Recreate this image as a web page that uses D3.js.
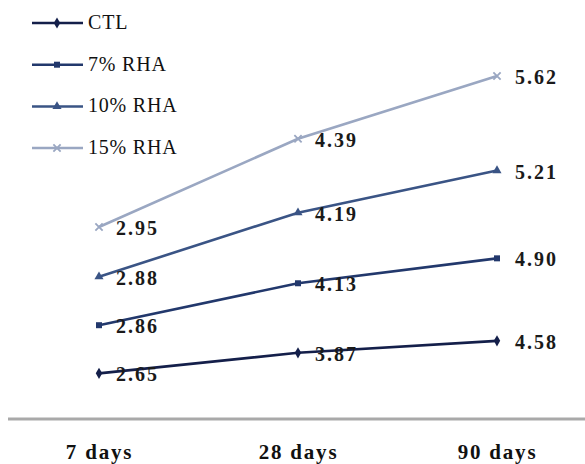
<!DOCTYPE html>
<html><head><meta charset="utf-8">
<script src="https://cdn.jsdelivr.net/npm/d3@7/dist/d3.min.js"></script>
<style>body{margin:0;background:#fff}svg{display:block}
text{font-family:"Liberation Serif","Times New Roman",Times,serif}</style>
</head><body>
<svg id="c" width="585" height="464"></svg>
<script>
const categories = ["7 days", "28 days", "90 days"];
const seriesNames = ["CTL", "7% RHA", "10% RHA", "15% RHA"];
const CTL = [2.65, 3.87, 4.58];
const RHA7 = [2.86, 4.13, 4.90];
const RHA10 = [2.88, 4.19, 5.21];
const RHA15 = [2.95, 4.39, 5.62];
const colors = ["#141f4a", "#22386c", "#3a5485", "#9aa7c2"];
const markers = ["diamond", "square", "triangle", "cross"];

const svg = d3.select("#c");
const seriesVals = [CTL, RHA7, RHA10, RHA15];
const table = categories.map((c, i) => {
  const o = {cat: c};
  seriesNames.forEach((s, j) => o[s] = seriesVals[j][i]);
  return o;
});
const stacked = d3.stack().keys(seriesNames)(table);

const x = d3.scalePoint().domain(categories).range([99, 497]);
const y = d3.scaleLinear().domain([0, 24]).range([418, 13.8]);

// axis
const ax = svg.append("g").attr("transform", "translate(0,418)")
  .call(d3.axisBottom(x).tickSize(0).tickPadding(26));
ax.select(".domain").remove();
ax.attr("font-family", null);
svg.append("line").attr("x1", 8).attr("x2", 585).attr("y1", 419).attr("y2", 419)
  .attr("stroke", "#a9a9a9").attr("stroke-width", 3);
ax.selectAll("text")
  .attr("font-size", 21).attr("font-weight", "bold").attr("fill", "#111")
  .attr("letter-spacing", 1.8);

const sym = {
  diamond: d3.symbol().type(d3.symbolDiamond).size(36),
  square: d3.symbol().type(d3.symbolSquare).size(36),
  triangle: d3.symbol().type(d3.symbolTriangle).size(36),
  cross: d3.symbol().type(d3.symbolX).size(36)
};

const line = d3.line().x(d => x(d.data.cat)).y(d => y(d[1]));
stacked.forEach((s, j) => {
  svg.append("path").datum(s).attr("d", line).attr("fill", "none")
    .attr("stroke", colors[j]).attr("stroke-width", 2.6);
  s.forEach((d, i) => {
    const m = svg.append("path").attr("d", sym[markers[j]]())
      .attr("transform", `translate(${x(d.data.cat)},${y(d[1])})`);
    if (markers[j] === "cross") m.attr("fill", "none").attr("stroke", colors[j]).attr("stroke-width", 1.8);
    else m.attr("fill", colors[j]);
    svg.append("text").attr("x", x(d.data.cat) + (i === 2 ? 18 : 17)).attr("y", y(d[1]) + 8)
      .attr("font-size", 20)
      .attr("font-weight", "bold").attr("letter-spacing", 2)
      .attr("fill", "#1a1a1a").text(seriesVals[j][i].toFixed(2));
  });
});

// legend
seriesNames.forEach((n, j) => {
  const ly = 23 + j * 41.7;
  svg.append("line").attr("x1", 32).attr("x2", 83).attr("y1", ly).attr("y2", ly)
    .attr("stroke", colors[j]).attr("stroke-width", 2.5);
  const m = svg.append("path").attr("d", sym[markers[j]]())
    .attr("transform", `translate(57,${ly})`);
  if (markers[j] === "cross") m.attr("fill", "none").attr("stroke", colors[j]).attr("stroke-width", 1.8);
  else m.attr("fill", colors[j]);
  svg.append("text").attr("x", 88).attr("y", ly + 6)
    .attr("font-size", 20)
    .attr("letter-spacing", 0.8).attr("fill", "#111").text(n);
});
</script>
</body></html>
